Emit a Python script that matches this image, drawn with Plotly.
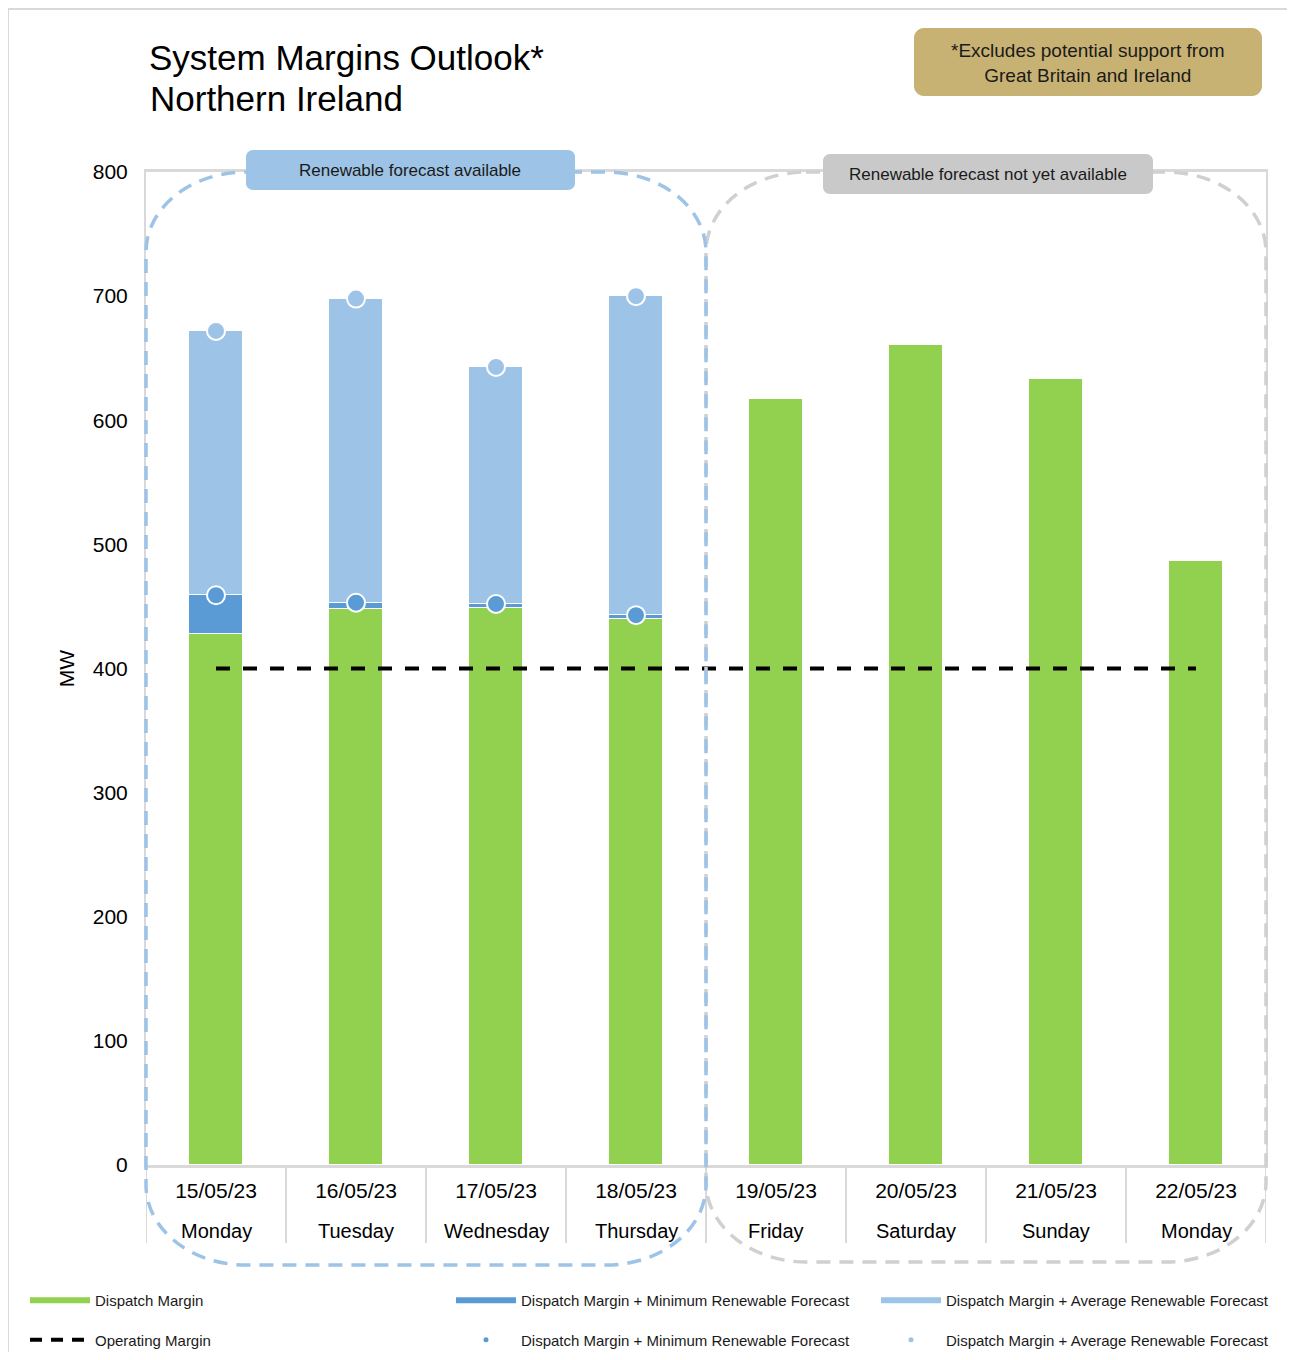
import plotly.graph_objects as go

# ---------------- data ----------------
dates = ["15/05/23", "16/05/23", "17/05/23", "18/05/23", "19/05/23", "20/05/23", "21/05/23", "22/05/23"]
weekdays = ["Monday", "Tuesday", "Wednesday", "Thursday", "Friday", "Saturday", "Sunday", "Monday"]
dispatch_margin = [428, 448, 449, 440, 617, 661, 633, 487]
dm_plus_min_renew = [459, 453, 452, 443]
dm_plus_avg_renew = [672, 698, 643, 700]
operating_margin = [400, 400, 400, 400, 400, 400, 400, 400]

GREEN = "#92D050"
DARK_BLUE = "#5B9BD5"
LIGHT_BLUE = "#9DC3E6"
GREY = "#D9D9D9"
FONT = "Liberation Sans, Arial, sans-serif"

# ---------------- page geometry (figure is offset by 8px body margin) ----------------
OFF = 8
W, H = 1295 - 2 * OFF, 1360 - 2 * OFF
PL, PR, PT, PB = 146, 1266, 172, 1165  # plot area in page px
ML, MR, MT, MB = PL - OFF, W - (PR - OFF), PT - OFF, H - (PB - OFF)


def px(xp):
    return (xp - PL) / (PR - PL)


def py(yp):
    return (PB - yp) / (PB - PT)


def rrect(x0, y0, x1, y1, rx, ry):
    k = 0.5523
    def P(x, y):
        return f"{px(x):.5f},{py(y):.5f}"
    d = f"M{P(x0 + rx, y0)} L{P(x1 - rx, y0)} "
    d += f"C{P(x1 - rx + k * rx, y0)} {P(x1, y0 + ry - k * ry)} {P(x1, y0 + ry)} "
    d += f"L{P(x1, y1 - ry)} "
    d += f"C{P(x1, y1 - ry + k * ry)} {P(x1 - rx + k * rx, y1)} {P(x1 - rx, y1)} "
    d += f"L{P(x0 + rx, y1)} "
    d += f"C{P(x0 + rx - k * rx, y1)} {P(x0, y1 - ry + k * ry)} {P(x0, y1 - ry)} "
    d += f"L{P(x0, y0 + ry)} "
    d += f"C{P(x0, y0 + ry - k * ry)} {P(x0 + rx - k * rx, y0)} {P(x0 + rx, y0)} Z"
    return d


n_fc = len(dm_plus_min_renew)
x_all = list(range(len(dates)))
x_fc = x_all[:n_fc]

min_seg = [m - d for m, d in zip(dm_plus_min_renew, dispatch_margin[:n_fc])]
avg_seg = [a - m for a, m in zip(dm_plus_avg_renew, dm_plus_min_renew)]

fig = go.Figure()
bw = 0.386
fig.add_trace(go.Bar(x=x_all, y=dispatch_margin, marker=dict(color=GREEN, line=dict(color="white", width=1.5)),
                     width=bw, showlegend=False, hoverinfo="skip"))
fig.add_trace(go.Bar(x=x_fc, y=min_seg, marker=dict(color=DARK_BLUE, line=dict(color="white", width=1.5)),
                     width=bw, showlegend=False, hoverinfo="skip"))
fig.add_trace(go.Bar(x=x_fc, y=avg_seg, marker=dict(color=LIGHT_BLUE, line=dict(color="white", width=1.5)),
                     width=bw, showlegend=False, hoverinfo="skip"))
fig.add_trace(go.Scatter(x=x_all, y=operating_margin, mode="lines",
                         line=dict(color="black", width=4, dash="14px,13px"), showlegend=False))
fig.add_trace(go.Scatter(x=x_fc, y=dm_plus_min_renew, mode="markers",
                         marker=dict(size=18, color=DARK_BLUE, line=dict(color="white", width=2)), showlegend=False))
fig.add_trace(go.Scatter(x=x_fc, y=dm_plus_avg_renew, mode="markers",
                         marker=dict(size=18, color=LIGHT_BLUE, line=dict(color="white", width=2)), showlegend=False))

# legend entries
leg_font = dict(family=FONT, size=15, color="#1a1a1a")
fig.add_trace(go.Scatter(x=[None], y=[None], mode="lines", name="Dispatch Margin",
                         line=dict(color=GREEN, width=6), legend="legend", legendgroup="a"))
fig.add_trace(go.Scatter(x=[None], y=[None], mode="lines", name="Operating Margin",
                         line=dict(color="black", width=4, dash="12px,9px"), legend="legend", legendgroup="b"))
fig.add_trace(go.Scatter(x=[None], y=[None], mode="lines", name="Dispatch Margin + Minimum Renewable Forecast",
                         line=dict(color=DARK_BLUE, width=6), legend="legend2", legendgroup="c"))
fig.add_trace(go.Scatter(x=[None], y=[None], mode="markers", name="Dispatch Margin + Minimum Renewable Forecast",
                         marker=dict(color=DARK_BLUE, size=5), legend="legend2", legendgroup="d"))
fig.add_trace(go.Scatter(x=[None], y=[None], mode="lines", name="Dispatch Margin + Average Renewable Forecast",
                         line=dict(color=LIGHT_BLUE, width=6), legend="legend3", legendgroup="e"))
fig.add_trace(go.Scatter(x=[None], y=[None], mode="markers", name="Dispatch Margin + Average Renewable Forecast",
                         marker=dict(color=LIGHT_BLUE, size=5), legend="legend3", legendgroup="f"))

leg_common = dict(orientation="v", yanchor="top", xanchor="left", font=leg_font, tracegroupgap=17,
                  bgcolor="rgba(0,0,0,0)", itemwidth=60)
legy = py(1284)

shapes = []
# outer border
shapes.append(dict(type="rect", xref="paper", yref="paper", x0=px(8), x1=px(1292), y0=py(9), y1=py(1400),
                   line=dict(color=GREY, width=2), layer="below"))
# category separators in axis area
for i in range(len(dates) + 1):
    shapes.append(dict(type="line", xref="x", yref="paper", x0=i - 0.5, x1=i - 0.5, y0=0, y1=py(1243),
                       line=dict(color=GREY, width=2)))
# dashed group outlines
shapes.append(dict(type="path", xref="paper", yref="paper", path=rrect(706, 172, 1266, 1262, 100, 80),
                   line=dict(color="#D0D0D0", width=3.5, dash="14px,9px")))
shapes.append(dict(type="path", xref="paper", yref="paper", path=rrect(146, 172, 706, 1265, 100, 80),
                   line=dict(color=LIGHT_BLUE, width=3.5, dash="14px,9px")))
# label boxes
shapes.append(dict(type="path", xref="paper", yref="paper", path=rrect(246, 150, 575, 190, 7, 7),
                   fillcolor=LIGHT_BLUE, line=dict(width=0)))
shapes.append(dict(type="path", xref="paper", yref="paper", path=rrect(823, 154, 1153, 194, 7, 7),
                   fillcolor="#C9C9C9", line=dict(width=0)))
shapes.append(dict(type="path", xref="paper", yref="paper", path=rrect(914, 28, 1262, 96, 10, 10),
                   fillcolor="#C8B273", line=dict(width=0)))

ann_common = dict(xref="paper", yref="paper", showarrow=False, xanchor="center", yanchor="middle")
annotations = [
    dict(text="System Margins Outlook*", x=px(147), y=py(57), **{**ann_common, "xanchor": "left"},
         font=dict(family=FONT, size=35, color="black")),
    dict(text="Northern Ireland", x=px(148), y=py(99), **{**ann_common, "xanchor": "left"},
         font=dict(family=FONT, size=35, color="black")),
    dict(text="Renewable forecast available", x=px(410), y=py(171), **ann_common,
         font=dict(family=FONT, size=17, color="#1a1a1a")),
    dict(text="Renewable forecast not yet available", x=px(988), y=py(175), **ann_common,
         font=dict(family=FONT, size=17, color="#1a1a1a")),
    dict(text="*Excludes potential support from<br>Great Britain and Ireland", x=px(1088), y=py(63),
         align="center", **ann_common, font=dict(family=FONT, size=19, color="#1a1a1a")),
]
for i, wd in enumerate(weekdays):
    annotations.append(dict(text=wd, xref="x", yref="paper", x=i, y=py(1231), xanchor="center", yanchor="middle",
                            showarrow=False, font=dict(family=FONT, size=20, color="black")))

fig.update_layout(
    width=W, height=H,
    margin=dict(l=ML, r=MR, t=MT, b=MB, autoexpand=False),
    paper_bgcolor="white", plot_bgcolor="white",
    barmode="stack", bargap=0.0,
    font=dict(family=FONT, color="black"),
    xaxis=dict(range=[-0.5, len(dates) - 0.5], tickvals=x_all, ticktext=dates, showgrid=False, zeroline=False,
               showline=True, linecolor=GREY, linewidth=3, mirror=True, ticks="",
               tickfont=dict(family=FONT, size=21, color="black"), ticklabelstandoff=5),
    yaxis=dict(range=[0, 800], tickvals=list(range(0, 801, 100)), showgrid=False, zeroline=False,
               showline=True, linecolor=GREY, linewidth=2, mirror=True, ticks="",
               tickfont=dict(family=FONT, size=21, color="black"), ticklabelstandoff=12,
               title=dict(text="MW", font=dict(family=FONT, size=21, color="black"), standoff=12)),
    legend=dict(x=px(25), y=legy, **leg_common),
    legend2=dict(x=px(451), y=legy, **leg_common),
    legend3=dict(x=px(876), y=legy, **leg_common),
    shapes=shapes,
    annotations=annotations,
    showlegend=True,
)

fig.write_html("out.html")
